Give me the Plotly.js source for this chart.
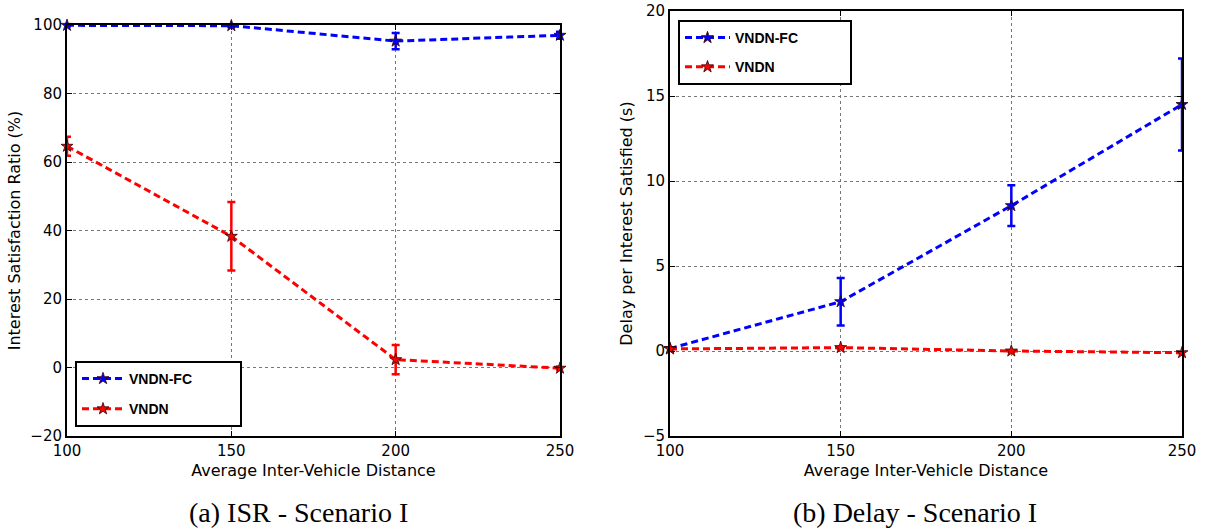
<!DOCTYPE html>
<html>
<head>
<meta charset="utf-8">
<script src="https://cdn.plot.ly/plotly-3.0.1.min.js"></script>
<style>html,body{margin:0;padding:0;background:#fff;}#chart{width:1206px;height:529px;}</style>
</head>
<body>
<div id="chart"></div>
<script>
// ---- data ----
const distances = [100, 150, 200, 250];
const seriesNames = ["VNDN-FC", "VNDN"];

// (a) ISR - Scenario I
const isrFC = [99.9, 99.8, 95.3, 97.0];
const isrFCErr = [0.3, 0.4, 2.4, 1.0];
const isrVNDN = [64.6, 38.3, 2.3, -0.2];
const isrVNDNErr = [2.8, 10.0, 4.3, 0.4];

// (b) Delay - Scenario I
const delayFC = [0.15, 2.9, 8.55, 14.5];
const delayFCErr = [0.05, 1.4, 1.2, 2.7];
const delayVNDN = [0.12, 0.2, 0.0, -0.1];
const delayVNDNErr = [0.02, 0.05, 0.05, 0.02];

const xTicks = [100, 150, 200, 250];
const isrTicks = [-20, 0, 20, 40, 60, 80, 100];
const delayTicks = [-5, 0, 5, 10, 15, 20];

const captions = ["(a) ISR - Scenario I", "(b) Delay - Scenario I"];
const xTitle = "Average Inter-Vehicle Distance";
const yTitles = ["Interest Satisfaction Ratio (%)", "Delay per Interest Satisfied (s)"];

// ---- styling ----
const BLUE = "#0000ff", RED = "#ff0000";
const PAD = "\u00a0".repeat(14);
function trace(x, y, err, name, color, xa, ya, legend, padCount) {
  return {
    type: "scatter", mode: "lines+markers", x: x, y: y, name: name + "\u00a0".repeat(padCount),
    xaxis: xa, yaxis: ya, legend: legend, legendgroup: name + legend, showlegend: true,
    line: {color: color, width: 3, dash: "7px,4px"},
    marker: {symbol: "star", size: 9, color: color, line: {color: "#330000", width: 0.8}},
    error_y: {type: "data", array: err, visible: true, color: color, thickness: 2.5, width: 4},
    cliponaxis: false
  };
}

const data = [
  trace(distances, isrFC, isrFCErr, seriesNames[0], BLUE, "x", "y", "legend", 11),
  trace(distances, isrVNDN, isrVNDNErr, seriesNames[1], RED, "x", "y", "legend", 11),
  trace(distances, delayFC, delayFCErr, seriesNames[0], BLUE, "x2", "y2", "legend2", 12),
  trace(distances, delayVNDN, delayVNDNErr, seriesNames[1], RED, "x2", "y2", "legend2", 12)
];

const W = 1206, H = 529;
const tickFont = {family: "DejaVu Sans", size: 15, color: "#000"};
const titleFont = {family: "DejaVu Sans", size: 16, color: "#000"};
function xaxis(domain, anchor) {
  return {
    domain: domain, anchor: anchor, range: [100, 250], tickvals: xTicks,
    showline: true, linewidth: 2, linecolor: "#000", mirror: "ticks",
    ticks: "inside", ticklen: 5, tickcolor: "#000", tickwidth: 1,
    showgrid: true, gridcolor: "#777", griddash: "dot", gridwidth: 1, zeroline: false,
    tickfont: tickFont, title: {text: xTitle, font: titleFont, standoff: 6}
  };
}
function yaxis(domain, anchor, range, ticks, title) {
  return {
    domain: domain, anchor: anchor, range: range, tickvals: ticks,
    showline: true, linewidth: 2, linecolor: "#000", mirror: "ticks",
    ticks: "inside", ticklen: 5, tickcolor: "#000", tickwidth: 1,
    showgrid: true, gridcolor: "#777", griddash: "dot", gridwidth: 1, zeroline: false,
    tickfont: tickFont, title: {text: title, font: titleFont, standoff: 6}
  };
}
const legFont = {family: "Liberation Sans", size: 14, color: "#000", weight: "bold"};
const layout = {
  width: W, height: H, margin: {l: 0, r: 0, t: 0, b: 0},
  paper_bgcolor: "#fff", plot_bgcolor: "#fff", showlegend: true,
  xaxis: xaxis([67 / W, 560 / W], "y"),
  yaxis: yaxis([1 - 436 / H, 1 - 25 / H], "x", [-20, 100], isrTicks, yTitles[0]),
  xaxis2: xaxis([670 / W, 1182 / W], "y2"),
  yaxis2: yaxis([1 - 436 / H, 1 - 11 / H], "x2", [-5, 20], delayTicks, yTitles[1]),
  legend: {x: 75 / W, y: 1 - 427 / H, xanchor: "left", yanchor: "bottom", bgcolor: "#fff",
    bordercolor: "#000", borderwidth: 2, font: legFont, tracegroupgap: 9, itemwidth: 42},
  legend2: {x: 678 / W, y: 1 - 20 / H, xanchor: "left", yanchor: "top", bgcolor: "#fff",
    bordercolor: "#000", borderwidth: 2, font: legFont, tracegroupgap: 8, itemwidth: 45},
  annotations: [
    {text: captions[0], xref: "paper", yref: "paper", x: 298 / W, y: 1 - 512 / H, showarrow: false,
     font: {family: "Liberation Serif", size: 28, color: "#000"}, xanchor: "center", yanchor: "middle"},
    {text: captions[1], xref: "paper", yref: "paper", x: 915 / W, y: 1 - 512 / H, showarrow: false,
     font: {family: "Liberation Serif", size: 28, color: "#000"}, xanchor: "center", yanchor: "middle"}
  ]
};
Plotly.newPlot("chart", data, layout, {staticPlot: true, displayModeBar: false});
</script>
</body>
</html>
